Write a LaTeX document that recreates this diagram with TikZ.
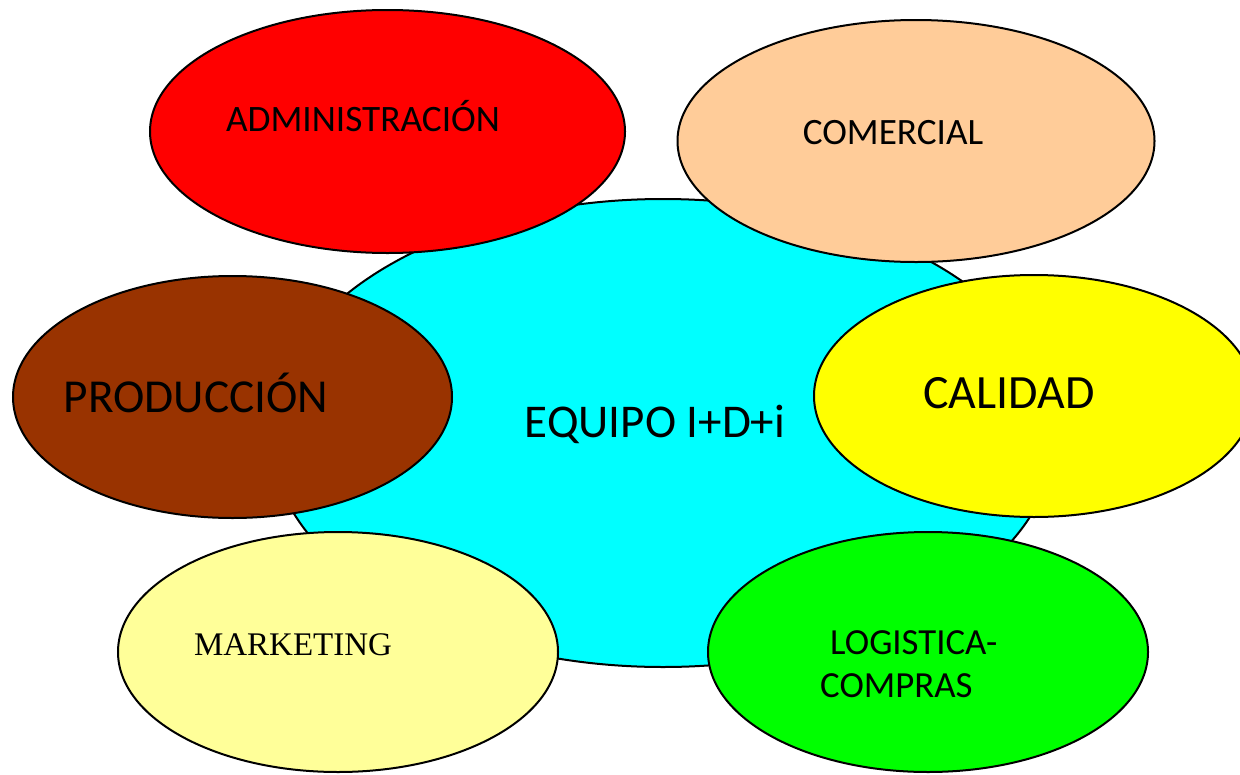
\documentclass[tikz,border=0pt]{standalone}
\usepackage{fontspec}
\setmainfont{Carlito}
\newfontfamily\serifface{Liberation Serif}
\usetikzlibrary{shapes.geometric}
\definecolor{cred}{HTML}{FF0000}
\definecolor{cpeach}{HTML}{FFCC99}
\definecolor{cbrown}{HTML}{993300}
\definecolor{cyel}{HTML}{FFFF00}
\definecolor{clyel}{HTML}{FFFF99}
\definecolor{cgreen}{HTML}{00FF00}
\definecolor{ccyan}{HTML}{00FFFF}
\tikzset{
  blob/.style={ellipse, draw=black, line width=2pt, inner sep=0pt, outer sep=0pt},
  lbl/.style={anchor=base, inner sep=0pt, text=black},
}
\begin{document}
\begin{tikzpicture}[x=1pt, y=-1pt]
\useasboundingbox (0,0) rectangle (1240,774);
% central
\node[blob, fill=ccyan, minimum width=786pt, minimum height=468pt] (equipo) at (663,433) {};
% satellites
\node[blob, fill=cred, minimum width=475pt, minimum height=243pt] (adm) at (387.5,131.5) {};
\node[blob, fill=cpeach, minimum width=477pt, minimum height=242pt] (com) at (916,141) {};
\node[blob, fill=cbrown, minimum width=439pt, minimum height=242pt] (prod) at (232.5,397) {};
\node[blob, fill=cyel, minimum width=440pt, minimum height=242pt] (cal) at (1034,396) {};
\node[blob, fill=clyel, minimum width=440pt, minimum height=240pt] (mkt) at (338,652) {};
\node[blob, fill=cgreen, minimum width=440pt, minimum height=240pt] (log) at (928,652) {};
% labels
\node[lbl, font=\fontsize{37.3}{44}\selectfont] (tadm) at (363,131) {ADMINISTRACIÓN};
\node[lbl, font=\fontsize{37.2}{44}\selectfont] (tcom) at (893,144) {COMERCIAL};
\node[lbl, font=\fontsize{47.3}{56}\selectfont] (tprod) at (196,412) {PRODUCCIÓN};
\node[lbl, font=\fontsize{47.8}{57}\selectfont] (tcal) at (1009,408) {CALIDAD};
\node[lbl, font=\fontsize{47}{56}\selectfont] (teq) at (655,437) {EQUIPO I+D+i};
\node[lbl, font=\serifface\fontsize{33}{40}\selectfont] (tmkt) at (293,655) {MARKETING};
\node[lbl, anchor=base west, font=\fontsize{36.8}{44}\selectfont] (tlog1) at (830,654) {LOGISTICA-};
\node[lbl, anchor=base west, font=\fontsize{36.8}{44}\selectfont] (tlog2) at (820,697) {COMPRAS};
\end{tikzpicture}
\end{document}
